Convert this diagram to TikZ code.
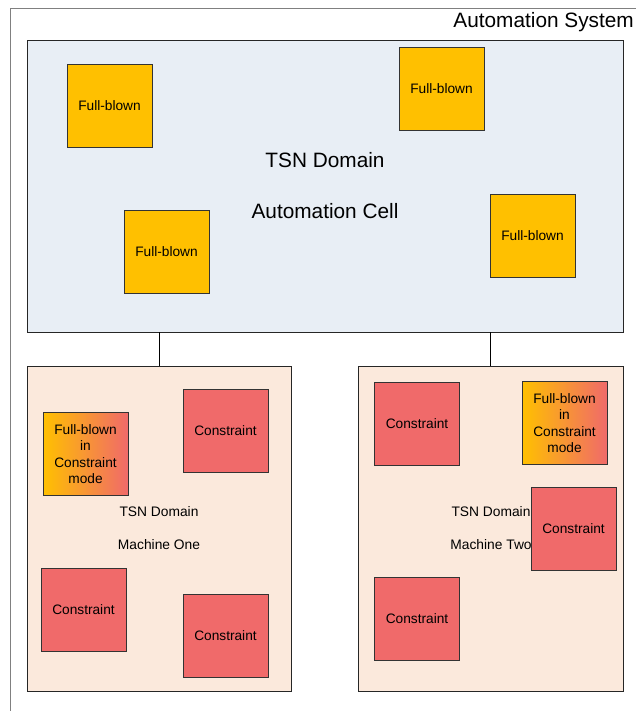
\documentclass[tikz,border=0pt]{standalone}
\usepackage{fontspec}
\setmainfont{Liberation Sans}
\usetikzlibrary{positioning}

\definecolor{fullcol}{HTML}{FFC000}
\definecolor{consol}{HTML}{F06A6A}
\definecolor{cellfill}{HTML}{E8EEF5}
\definecolor{machfill}{HTML}{FBE9DC}

\tikzset{
  devbox/.style={draw=black!80, line width=0.8pt, minimum width=85pt, minimum height=83pt,
    inner sep=0pt, align=center, font=\fontsize{13.7}{16.6}\selectfont},
  fullbox/.style={devbox, fill=fullcol},
  consbox/.style={devbox, fill=consol},
  mixbox/.style={devbox, left color=fullcol, right color=consol},
  areabox/.style={draw=black!85, line width=0.8pt, inner sep=0pt},
  smalltext/.style={font=\fontsize{13.8}{16}\selectfont, inner sep=0pt},
  bigtext/.style={font=\fontsize{20.8}{24}\selectfont, inner sep=0pt}
}

\begin{document}
\begin{tikzpicture}[x=1pt, y=-1pt]
\useasboundingbox (0, 0) rectangle (636, 711);

% outer frame
\draw[gray, line width=0.9pt] (10, 711) -- (10, 8) -- (636, 8);
\node[bigtext, anchor=east] (sys) at (634, 22) {Automation System};

% automation cell
\node[areabox, fill=cellfill, minimum width=596pt, minimum height=292pt] (cell) at (325, 186) {};
\node[bigtext] (celldom) at (325, 160) {TSN Domain};
\node[bigtext] (cellname) at (325, 211) {Automation Cell};

\node[fullbox] (fb1) at (109.5, 105.5) {Full-blown};
\node[fullbox] (fb2) at (441.5,  88.5) {Full-blown};
\node[fullbox] (fb3) at (166.5, 251.5) {Full-blown};
\node[fullbox] (fb4) at (532.5, 235.5) {Full-blown};

% machines
\node[areabox, fill=machfill, minimum width=264pt, minimum height=325pt] (mone) at (159, 528.5) {};
\node[areabox, fill=machfill, minimum width=265pt, minimum height=325pt] (mtwo) at (490.5, 528.5) {};

\draw[line width=0.8pt] (cell.south -| mone.north) -- (mone.north);
\draw[line width=0.8pt] (cell.south -| mtwo.north) -- (mtwo.north);

\node[smalltext] (onedom) at (159, 512) {TSN Domain};
\node[smalltext] (onename) at (159, 545) {Machine One};
\node[smalltext] (twodom) at (491, 512) {TSN Domain};
\node[smalltext] (twoname) at (491, 545) {Machine Two};

\node[mixbox] (mix1) at (85.5, 454) {Full-blown\\in\\Constraint\\mode};
\node[consbox] (c1) at (225.5, 430.5) {Constraint};
\node[consbox] (c2) at (83.5, 609.5) {Constraint};
\node[consbox] (c3) at (225.5, 635.5) {Constraint};

\node[consbox] (c4) at (417, 423.5) {Constraint};
\node[mixbox] (mix2) at (564.5, 423) {Full-blown\\in\\Constraint\\mode};
\node[consbox] (c5) at (573.5, 528.5) {Constraint};
\node[consbox] (c6) at (417, 618.5) {Constraint};

\end{tikzpicture}
\end{document}
